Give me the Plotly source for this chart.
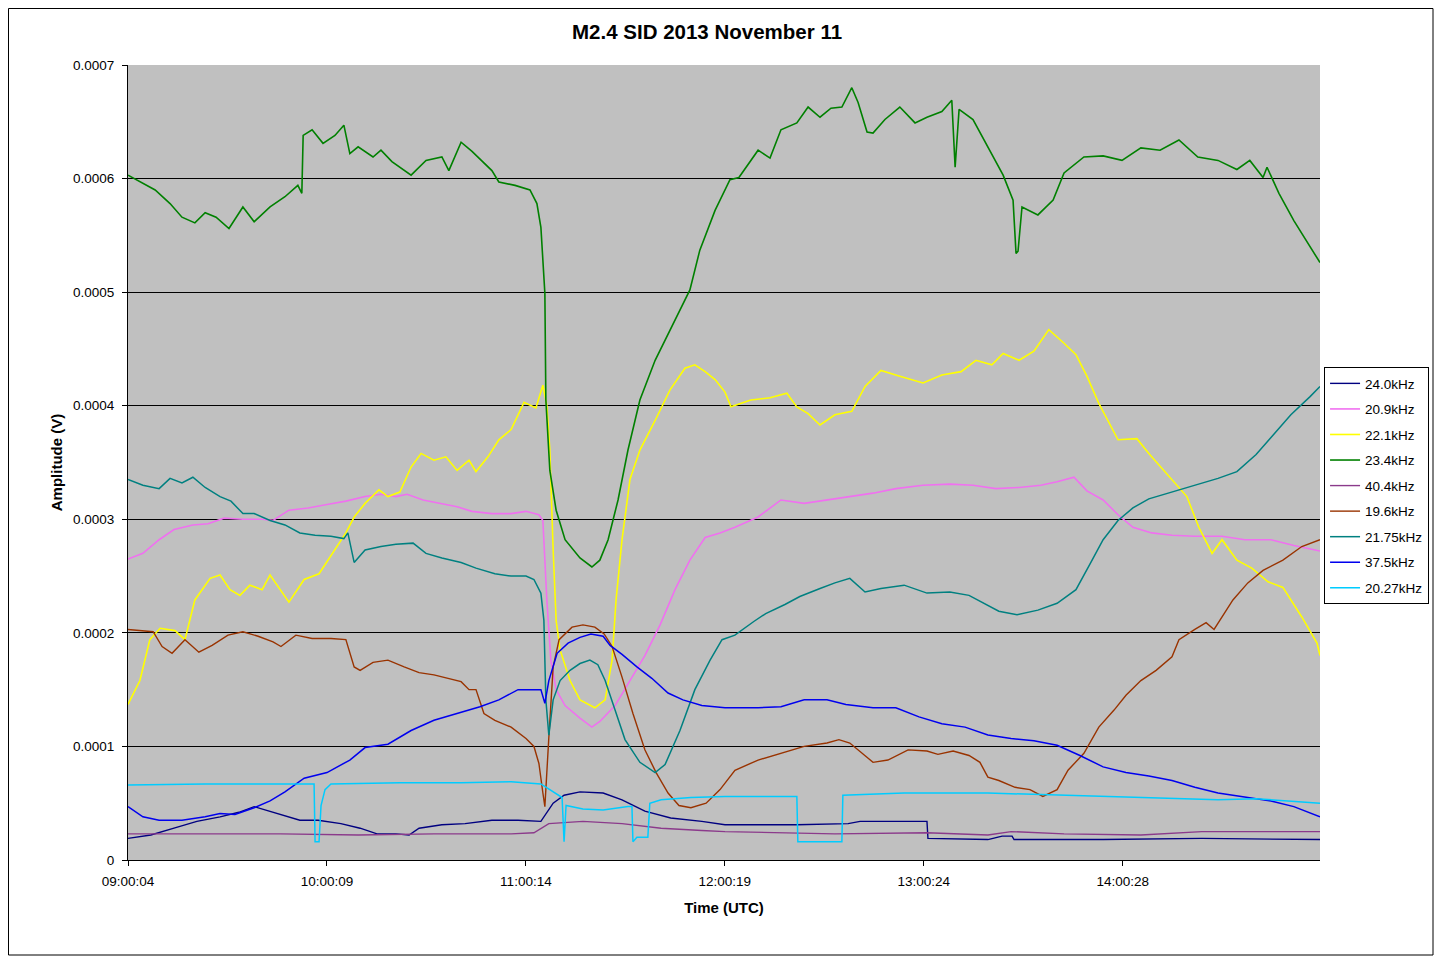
import plotly.graph_objects as go

# Time axis: minutes elapsed after 09:00:04 (UTC); amplitudes in units of 1e-4 V
tick_minutes = [0, 60.08, 120.17, 180.25, 240.33, 300.4]
tick_labels = ["09:00:04", "10:00:09", "11:00:14", "12:00:19", "13:00:24", "14:00:28"]
y_ticks_e4 = [0, 1, 2, 3, 4, 5, 6, 7]
y_tick_labels = ["0", "0.0001", "0.0002", "0.0003", "0.0004", "0.0005", "0.0006", "0.0007"]

# 24.0 kHz
t_24_0 = [0, 6.9, 13.9, 20.8, 27.8, 33.5, 38.1, 41.7, 46.2, 51.9, 57.4, 64.3, 70.1, 75.2, 80.9,
          84.9, 87.9, 94.8, 101.8, 109.9, 117.8, 124.7, 128.4, 131.7, 136.5, 143.5, 149.2, 156.1,
          163.9, 173.3, 180.3, 202.0, 217.5, 221.1, 241.3, 241.6, 259.7, 264.0, 267.0, 267.6,
          294.5, 324.3, 360.0]
v_24_0 = [0.19, 0.22, 0.28, 0.34, 0.38, 0.42, 0.47, 0.44, 0.40, 0.35, 0.35, 0.32, 0.28, 0.23, 0.23,
          0.22, 0.28, 0.31, 0.32, 0.35, 0.35, 0.34, 0.50, 0.57, 0.60, 0.59, 0.53, 0.43,
          0.37, 0.34, 0.31, 0.31, 0.32, 0.34, 0.34, 0.19, 0.18, 0.21, 0.21, 0.18,
          0.18, 0.19, 0.18]

# 20.9 kHz
t_20_9 = [0, 4.5, 9.4, 13.9, 19.6, 24.2, 29.0, 34.7, 40.5, 43.8, 48.6, 54.4, 60.1, 65.8, 71.6,
          76.4, 80.9, 84.3, 89.1, 94.8, 99.4, 103.9, 109.9, 115.7, 120.2, 124.1, 125.3, 126.5,
          127.7, 129.3, 132.0, 136.5, 140.1, 142.5, 147.1, 151.6, 156.1, 160.7, 165.2, 169.7,
          174.3, 178.8, 183.3, 190.3, 197.2, 204.2, 211.1, 218.0, 225.0, 231.9, 240.1, 248.2,
          255.2, 262.1, 269.1, 275.7, 280.6, 285.7, 289.6, 294.5, 299.0, 303.5, 309.2, 315.3,
          322.2, 330.4, 337.3, 345.2, 352.1, 360.0]
v_20_9 = [2.65, 2.70, 2.82, 2.91, 2.95, 2.96, 3.01, 3.00, 3.00, 2.99, 3.08, 3.10, 3.13, 3.16, 3.20,
          3.22, 3.20, 3.22, 3.17, 3.14, 3.11, 3.07, 3.05, 3.05, 3.07, 3.04, 2.99, 2.29,
          1.76, 1.50, 1.36, 1.25, 1.17, 1.22, 1.36, 1.58, 1.80, 2.07, 2.38, 2.64,
          2.84, 2.88, 2.93, 3.02, 3.17, 3.14, 3.17, 3.20, 3.23, 3.27, 3.30, 3.31,
          3.30, 3.27, 3.28, 3.30, 3.33, 3.37, 3.25, 3.17, 3.04, 2.93, 2.88, 2.86,
          2.85, 2.85, 2.82, 2.82, 2.77, 2.72]

# 22.1 kHz
t_22_1 = [0, 3.6, 6.6, 9.7, 14.2, 17.2, 20.2, 24.8, 27.8, 30.8, 33.8, 36.8, 40.5, 42.9, 48.6,
          53.2, 57.7, 62.5, 65.8, 68.3, 71.6, 75.8, 78.5, 82.1, 85.5, 88.5, 92.4, 96.0, 99.4,
          103.0, 105.1, 108.7, 112.0, 115.7, 119.6, 123.2, 125.3, 126.5, 127.4, 128.4, 129.3,
          130.5, 133.5, 136.5, 141.0, 144.1, 146.2, 147.4, 149.2, 151.6, 154.6, 159.2, 163.7,
          168.2, 171.2, 174.3, 177.3, 180.3, 182.1, 188.1, 193.9, 199.0, 202.0, 205.4, 209.0,
          213.5, 218.6, 222.6, 227.4, 233.1, 240.1, 245.8, 251.6, 256.1, 260.9, 264.3, 269.1,
          273.6, 278.1, 282.7, 286.3, 289.6, 293.2, 299.0, 304.7, 308.3, 315.3, 319.8, 323.4,
          327.4, 330.4, 334.9, 339.4, 344.3, 348.8, 354.5, 359.1, 360.0]
v_22_1 = [1.37, 1.58, 1.94, 2.04, 2.02, 1.94, 2.29, 2.48, 2.51, 2.38, 2.33, 2.42, 2.38, 2.51, 2.27,
          2.47, 2.52, 2.73, 2.88, 3.02, 3.14, 3.26, 3.20, 3.24, 3.46, 3.58, 3.52, 3.55, 3.43,
          3.52, 3.42, 3.55, 3.70, 3.79, 4.03, 3.98, 4.18, 4.00, 3.61, 2.73, 2.11,
          1.85, 1.58, 1.41, 1.34, 1.41, 1.76, 2.29, 2.82, 3.35, 3.61, 3.87, 4.14,
          4.33, 4.36, 4.30, 4.23, 4.12, 3.99, 4.05, 4.07, 4.11, 3.99, 3.93, 3.83,
          3.92, 3.95, 4.17, 4.31, 4.26, 4.20, 4.27, 4.30, 4.40, 4.36, 4.46, 4.40,
          4.48, 4.67, 4.55, 4.45, 4.26, 4.02, 3.70, 3.71, 3.58, 3.35, 3.20, 2.93,
          2.70, 2.82, 2.64, 2.57, 2.45, 2.40, 2.14, 1.91, 1.80]

# 23.4 kHz
t_23_4 = [0, 8.2, 12.7, 16.3, 20.2, 23.3, 26.6, 30.5, 34.7, 38.1, 42.9, 47.4, 51.3, 52.5, 52.9,
          55.6, 58.9, 62.5, 65.2, 67.0, 69.5, 74.0, 76.4, 79.7, 85.5, 90.0, 94.8, 96.9, 100.6,
          103.9, 109.9, 112.0, 116.9, 121.4, 123.5, 124.7, 125.9, 126.2, 127.4, 129.3, 132.0,
          136.5, 140.1, 142.5, 145.0, 148.0, 151.0, 154.6, 159.2, 163.7, 167.3, 169.7, 172.7,
          177.3, 181.8, 184.5, 190.3, 193.9, 197.2, 202.0, 205.4, 209.0, 212.3, 215.6, 218.6,
          220.5, 223.2, 225.0, 228.6, 233.1, 237.7, 241.3, 245.8, 248.8, 249.8, 251.0, 255.2,
          259.7, 264.3, 267.3, 268.2, 268.8, 270.0, 274.8, 279.4, 282.7, 288.7, 294.5, 300.2,
          305.9, 311.7, 317.4, 323.1, 329.2, 334.9, 338.8, 342.8, 344.0, 347.6, 352.1, 355.8,
          360.0]
v_23_4 = [6.03, 5.90, 5.78, 5.66, 5.61, 5.70, 5.66, 5.56, 5.75, 5.62, 5.75, 5.84, 5.94, 5.87, 6.38,
          6.43, 6.31, 6.38, 6.47, 6.22, 6.28, 6.19, 6.25, 6.15, 6.03, 6.16, 6.19, 6.07, 6.32,
          6.24, 6.07, 5.97, 5.94, 5.90, 5.78, 5.57, 4.99, 4.05, 3.43, 3.08, 2.82,
          2.66, 2.58, 2.64, 2.82, 3.17, 3.61, 4.05, 4.40, 4.67, 4.89, 5.02, 5.37,
          5.72, 5.99, 6.01, 6.25, 6.18, 6.43, 6.49, 6.63, 6.54, 6.62, 6.63, 6.80,
          6.67, 6.41, 6.40, 6.52, 6.63, 6.49, 6.54, 6.59, 6.69, 6.10, 6.61, 6.52,
          6.28, 6.03, 5.81, 5.34, 5.36, 5.75, 5.68, 5.81, 6.05, 6.19, 6.20, 6.16,
          6.27, 6.25, 6.34, 6.19, 6.16, 6.08, 6.16, 6.01, 6.10, 5.87, 5.63, 5.46,
          5.26]

# 40.4 kHz
t_40_4 = [0, 23.3, 46.2, 69.5, 92.4, 115.7, 122.6, 127.1, 137.4, 149.2, 161.0, 173.3, 180.3,
          213.5, 241.3, 259.7, 266.7, 282.7, 305.9, 324.3, 360.0]
v_40_4 = [0.23, 0.23, 0.23, 0.22, 0.23, 0.23, 0.24, 0.32, 0.34, 0.32, 0.28, 0.26, 0.25,
          0.23, 0.24, 0.22, 0.25, 0.23, 0.22, 0.25, 0.25]

# 19.6 kHz
t_19_6 = [0, 7.6, 10.3, 13.3, 17.2, 21.4, 25.4, 30.2, 34.7, 39.3, 43.8, 46.2, 50.7, 55.6, 61.3,
          65.8, 68.3, 70.1, 74.0, 78.5, 83.4, 87.9, 92.4, 96.9, 100.6, 103.0, 105.1, 107.5,
          110.8, 115.7, 120.2, 122.6, 124.1, 125.3, 125.9, 127.1, 128.4, 130.2, 134.1, 137.4,
          141.0, 143.8, 146.2, 149.2, 152.5, 156.1, 159.5, 163.1, 166.4, 170.0, 174.6, 178.8,
          183.3, 190.3, 197.2, 204.2, 211.1, 214.7, 218.0, 221.7, 225.0, 229.5, 235.6, 241.3,
          244.6, 249.2, 254.0, 257.3, 259.7, 263.0, 267.9, 272.4, 276.3, 280.6, 283.9, 288.7,
          293.2, 297.8, 301.4, 305.9, 310.5, 315.3, 317.4, 322.2, 325.6, 328.0, 333.7, 338.2,
          342.8, 348.8, 354.5, 360.0]
v_19_6 = [2.03, 2.01, 1.88, 1.82, 1.94, 1.83, 1.89, 1.98, 2.01, 1.97, 1.92, 1.88, 1.98, 1.95, 1.95,
          1.94, 1.70, 1.67, 1.74, 1.76, 1.70, 1.65, 1.63, 1.60, 1.57, 1.50, 1.50, 1.29,
          1.23, 1.17, 1.07, 1.00, 0.85, 0.59, 0.47, 1.08, 1.70, 1.94, 2.05, 2.07,
          2.05, 1.99, 1.88, 1.61, 1.29, 0.97, 0.77, 0.59, 0.48, 0.46, 0.50, 0.62,
          0.79, 0.88, 0.94, 1.00, 1.03, 1.06, 1.03, 0.94, 0.86, 0.88, 0.97, 0.96,
          0.93, 0.96, 0.92, 0.86, 0.73, 0.70, 0.64, 0.62, 0.56, 0.62, 0.79, 0.94,
          1.17, 1.32, 1.45, 1.58, 1.67, 1.79, 1.94, 2.03, 2.09, 2.03, 2.29, 2.44,
          2.55, 2.64, 2.76, 2.82]

# 21.75 kHz
t_21_75 = [0, 4.5, 9.4, 12.7, 16.3, 19.6, 23.3, 27.8, 31.1, 34.7, 38.1, 42.9, 47.4, 51.9, 56.5,
           61.3, 65.2, 66.4, 68.3, 71.6, 76.4, 80.9, 86.1, 90.0, 94.8, 100.6, 105.1, 110.8,
           115.7, 120.2, 122.6, 124.7, 125.6, 126.2, 127.1, 128.4, 130.5, 133.5, 136.5, 139.5,
           141.9, 144.1, 147.1, 150.1, 154.6, 159.2, 162.2, 166.7, 171.2, 175.8, 179.4, 183.3,
           189.0, 192.6, 198.4, 202.9, 209.0, 213.5, 218.0, 222.6, 227.4, 234.4, 241.3, 248.2,
           254.0, 258.5, 263.0, 268.5, 274.8, 280.6, 286.3, 290.8, 294.5, 299.0, 303.5, 308.3,
           315.3, 322.2, 329.2, 334.9, 340.7, 345.2, 351.2, 357.0, 360.0]
v_21_75 = [3.35, 3.30, 3.27, 3.36, 3.32, 3.37, 3.28, 3.20, 3.16, 3.05, 3.05, 2.99, 2.95, 2.88, 2.86,
           2.85, 2.83, 2.88, 2.62, 2.73, 2.76, 2.78, 2.79, 2.70, 2.66, 2.62, 2.57, 2.52,
           2.50, 2.50, 2.47, 2.35, 2.11, 1.41, 1.10, 1.41, 1.58, 1.67, 1.73, 1.76,
           1.72, 1.58, 1.32, 1.06, 0.86, 0.77, 0.84, 1.14, 1.50, 1.76, 1.94, 1.98,
           2.10, 2.17, 2.25, 2.32, 2.39, 2.44, 2.48, 2.36, 2.39, 2.42, 2.35, 2.36,
           2.33, 2.26, 2.19, 2.16, 2.20, 2.26, 2.38, 2.62, 2.82, 2.99, 3.10, 3.18,
           3.24, 3.30, 3.36, 3.42, 3.57, 3.72, 3.92, 4.08, 4.17]

# 37.5 kHz
t_37_5 = [0, 4.5, 9.4, 16.3, 23.3, 27.8, 32.3, 38.1, 42.9, 47.4, 53.2, 60.1, 67.0, 71.6, 78.5,
          85.5, 92.4, 99.4, 106.3, 112.0, 117.8, 124.7, 125.9, 127.1, 129.6, 132.9, 136.5,
          139.8, 143.5, 145.6, 149.2, 153.7, 158.2, 163.1, 167.6, 173.3, 180.3, 190.3, 197.2,
          204.2, 211.1, 216.8, 225.0, 231.9, 238.9, 245.8, 252.8, 259.7, 266.7, 273.6, 280.6,
          287.5, 294.5, 301.4, 308.3, 315.3, 322.2, 329.2, 338.2, 345.2, 352.1, 360.0]
v_37_5 = [0.47, 0.38, 0.35, 0.35, 0.38, 0.41, 0.40, 0.46, 0.52, 0.60, 0.72, 0.77, 0.88, 0.99, 1.02,
          1.14, 1.23, 1.29, 1.35, 1.41, 1.50, 1.50, 1.38, 1.58, 1.82, 1.91, 1.96,
          1.99, 1.97, 1.89, 1.81, 1.70, 1.60, 1.47, 1.41, 1.36, 1.34, 1.34, 1.35,
          1.41, 1.41, 1.37, 1.34, 1.34, 1.26, 1.20, 1.17, 1.10, 1.07, 1.05, 1.01,
          0.92, 0.82, 0.77, 0.74, 0.70, 0.64, 0.59, 0.55, 0.52, 0.47, 0.38]

# 20.27 kHz
t_20_27 = [0, 23.3, 47.4, 56.2, 56.5, 57.7, 58.3, 59.5, 61.3, 82.1, 100.6, 115.7, 124.7, 128.4,
           131.1, 131.7, 132.3, 137.4, 143.5, 151.0, 152.2, 152.5, 153.7, 157.0, 157.6, 161.0,
           170.0, 180.3, 202.0, 202.3, 215.6, 215.9, 234.4, 259.7, 282.7, 305.9, 329.2, 340.7,
           360.0]
v_20_27 = [0.66, 0.67, 0.67, 0.67, 0.16, 0.16, 0.48, 0.62, 0.67, 0.68, 0.68, 0.69, 0.67, 0.60,
           0.55, 0.16, 0.48, 0.45, 0.44, 0.47, 0.47, 0.16, 0.20, 0.20, 0.50, 0.53,
           0.55, 0.56, 0.56, 0.16, 0.16, 0.57, 0.59, 0.59, 0.57, 0.55, 0.53, 0.54,
           0.50]

series = [
    ("24.0kHz", t_24_0, v_24_0, "#000080", 1.4),
    ("20.9kHz", t_20_9, v_20_9, "#F070F0", 1.6),
    ("22.1kHz", t_22_1, v_22_1, "#FFFF00", 1.6),
    ("23.4kHz", t_23_4, v_23_4, "#008000", 1.6),
    ("40.4kHz", t_40_4, v_40_4, "#8B3A8B", 1.4),
    ("19.6kHz", t_19_6, v_19_6, "#993300", 1.4),
    ("21.75kHz", t_21_75, v_21_75, "#008080", 1.5),
    ("37.5kHz", t_37_5, v_37_5, "#0000EE", 1.5),
    ("20.27kHz", t_20_27, v_20_27, "#00CCFF", 1.5),
]

fig = go.Figure()
for name, t, v, color, w in series:
    fig.add_trace(go.Scatter(
        x=t, y=[val * 1e-4 for val in v], mode="lines", name=name,
        legendgroup=name, line=dict(color=color, width=w),
    ))

FONT = "Liberation Sans, Arial, sans-serif"
W, H = 1434, 950  # page body margin of 8 px places the figure at (8, 8)
fig.update_layout(
    width=W, height=H,
    margin=dict(l=120, r=122, t=57, b=98),
    paper_bgcolor="white", plot_bgcolor="#C0C0C0",
    font=dict(family=FONT, size=13.5, color="black"),
    title=dict(text="<b>M2.4 SID 2013 November 11</b>", x=0.4875, xanchor="center",
               y=1 - 24 / H, yanchor="middle", yref="container",
               font=dict(size=20.5, family=FONT, color="black")),
    showlegend=True,
    legend=dict(x=1.0034, xanchor="left", y=0.620, yanchor="top",
                bgcolor="white", bordercolor="black", borderwidth=1,
                font=dict(size=13.5, family=FONT), tracegroupgap=5,
                traceorder="grouped", itemwidth=30),
    xaxis=dict(range=[0, 360], tickmode="array", tickvals=tick_minutes, ticktext=tick_labels,
               showgrid=False, zeroline=False, showline=True, linecolor="black", linewidth=1,
               ticks="outside", ticklen=5, tickcolor="black", ticklabelstandoff=4,
               title=dict(text="<b>Time (UTC)</b>", font=dict(size=15), standoff=14)),
    yaxis=dict(range=[0, 0.0007], tickmode="array", tickvals=[y * 1e-4 for y in y_ticks_e4],
               ticktext=y_tick_labels, showgrid=True, gridcolor="black", gridwidth=1.3,
               zeroline=False, showline=True, linecolor="black", linewidth=1,
               ticks="outside", ticklen=5, tickcolor="black", ticklabelstandoff=5,
               title=dict(text="<b>Amplitude (V)</b>", font=dict(size=15), standoff=6)),
    shapes=[dict(type="rect", xref="paper", yref="paper",
                 x0=(0.5 - 120) / 1192, x1=(1425 - 120) / 1192,
                 y0=(852 - 947) / 795, y1=(852 - 0.5) / 795,
                 line=dict(color="black", width=1), fillcolor="rgba(0,0,0,0)", layer="below")],
)

fig.write_html("out.html")
